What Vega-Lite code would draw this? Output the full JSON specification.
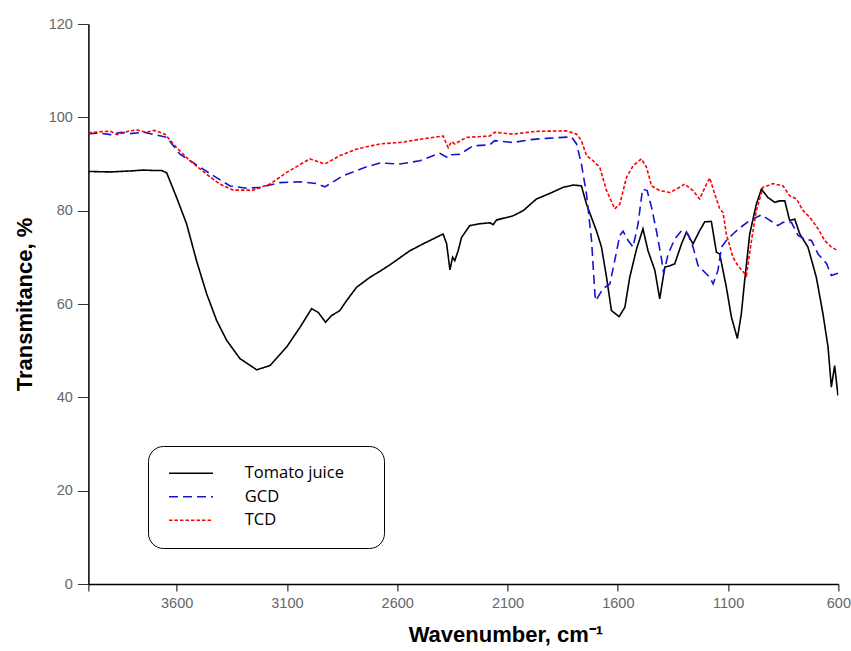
{
  "$schema": "https://vega.github.io/schema/vega-lite/v6.json",
  "width": 750,
  "height": 560,
  "autosize": "none",
  "padding": {"left": 88.4, "top": 24, "right": 12.6, "bottom": 67},
  "background": "white",
  "config": {"view": {"stroke": null}},
  "datasets": {
    "spectra": [
      {"series":"Tomato juice","wavenumber":4000,"transmittance":88.4},
      {"series":"Tomato juice","wavenumber":3900,"transmittance":88.3},
      {"series":"Tomato juice","wavenumber":3812,"transmittance":88.5},
      {"series":"Tomato juice","wavenumber":3750,"transmittance":88.7},
      {"series":"Tomato juice","wavenumber":3700,"transmittance":88.6},
      {"series":"Tomato juice","wavenumber":3667,"transmittance":88.6},
      {"series":"Tomato juice","wavenumber":3645,"transmittance":88.1},
      {"series":"Tomato juice","wavenumber":3600,"transmittance":82.8},
      {"series":"Tomato juice","wavenumber":3555,"transmittance":77.2},
      {"series":"Tomato juice","wavenumber":3510,"transmittance":69.3},
      {"series":"Tomato juice","wavenumber":3464,"transmittance":62.2},
      {"series":"Tomato juice","wavenumber":3419,"transmittance":56.5},
      {"series":"Tomato juice","wavenumber":3373,"transmittance":52.2},
      {"series":"Tomato juice","wavenumber":3313,"transmittance":48.3},
      {"series":"Tomato juice","wavenumber":3237,"transmittance":45.9},
      {"series":"Tomato juice","wavenumber":3177,"transmittance":46.8},
      {"series":"Tomato juice","wavenumber":3101,"transmittance":50.8},
      {"series":"Tomato juice","wavenumber":3041,"transmittance":55.0},
      {"series":"Tomato juice","wavenumber":2988,"transmittance":59.0},
      {"series":"Tomato juice","wavenumber":2958,"transmittance":58.2},
      {"series":"Tomato juice","wavenumber":2925,"transmittance":56.1},
      {"series":"Tomato juice","wavenumber":2898,"transmittance":57.5},
      {"series":"Tomato juice","wavenumber":2860,"transmittance":58.6},
      {"series":"Tomato juice","wavenumber":2830,"transmittance":60.7},
      {"series":"Tomato juice","wavenumber":2784,"transmittance":63.6},
      {"series":"Tomato juice","wavenumber":2724,"transmittance":65.7},
      {"series":"Tomato juice","wavenumber":2679,"transmittance":67.0},
      {"series":"Tomato juice","wavenumber":2633,"transmittance":68.4},
      {"series":"Tomato juice","wavenumber":2543,"transmittance":71.4},
      {"series":"Tomato juice","wavenumber":2482,"transmittance":72.9},
      {"series":"Tomato juice","wavenumber":2392,"transmittance":75.0},
      {"series":"Tomato juice","wavenumber":2376,"transmittance":72.9},
      {"series":"Tomato juice","wavenumber":2361,"transmittance":67.3},
      {"series":"Tomato juice","wavenumber":2349,"transmittance":70.0},
      {"series":"Tomato juice","wavenumber":2339,"transmittance":69.3},
      {"series":"Tomato juice","wavenumber":2324,"transmittance":71.4},
      {"series":"Tomato juice","wavenumber":2308,"transmittance":74.3},
      {"series":"Tomato juice","wavenumber":2271,"transmittance":76.8},
      {"series":"Tomato juice","wavenumber":2226,"transmittance":77.2},
      {"series":"Tomato juice","wavenumber":2180,"transmittance":77.4},
      {"series":"Tomato juice","wavenumber":2165,"transmittance":77.0},
      {"series":"Tomato juice","wavenumber":2150,"transmittance":78.0},
      {"series":"Tomato juice","wavenumber":2075,"transmittance":78.9},
      {"series":"Tomato juice","wavenumber":2029,"transmittance":80.0},
      {"series":"Tomato juice","wavenumber":1969,"transmittance":82.5},
      {"series":"Tomato juice","wavenumber":1908,"transmittance":83.7},
      {"series":"Tomato juice","wavenumber":1848,"transmittance":85.0},
      {"series":"Tomato juice","wavenumber":1800,"transmittance":85.5},
      {"series":"Tomato juice","wavenumber":1765,"transmittance":85.3},
      {"series":"Tomato juice","wavenumber":1742,"transmittance":81.4},
      {"series":"Tomato juice","wavenumber":1697,"transmittance":75.7},
      {"series":"Tomato juice","wavenumber":1674,"transmittance":72.2},
      {"series":"Tomato juice","wavenumber":1651,"transmittance":65.7},
      {"series":"Tomato juice","wavenumber":1629,"transmittance":58.6},
      {"series":"Tomato juice","wavenumber":1594,"transmittance":57.3},
      {"series":"Tomato juice","wavenumber":1568,"transmittance":59.3},
      {"series":"Tomato juice","wavenumber":1546,"transmittance":65.7},
      {"series":"Tomato juice","wavenumber":1515,"transmittance":71.8},
      {"series":"Tomato juice","wavenumber":1486,"transmittance":76.1},
      {"series":"Tomato juice","wavenumber":1463,"transmittance":71.4},
      {"series":"Tomato juice","wavenumber":1432,"transmittance":67.2},
      {"series":"Tomato juice","wavenumber":1410,"transmittance":61.1},
      {"series":"Tomato juice","wavenumber":1387,"transmittance":67.9},
      {"series":"Tomato juice","wavenumber":1364,"transmittance":68.2},
      {"series":"Tomato juice","wavenumber":1342,"transmittance":68.6},
      {"series":"Tomato juice","wavenumber":1311,"transmittance":72.9},
      {"series":"Tomato juice","wavenumber":1289,"transmittance":75.4},
      {"series":"Tomato juice","wavenumber":1259,"transmittance":72.9},
      {"series":"Tomato juice","wavenumber":1229,"transmittance":75.7},
      {"series":"Tomato juice","wavenumber":1206,"transmittance":77.6},
      {"series":"Tomato juice","wavenumber":1176,"transmittance":77.7},
      {"series":"Tomato juice","wavenumber":1153,"transmittance":71.1},
      {"series":"Tomato juice","wavenumber":1138,"transmittance":70.7},
      {"series":"Tomato juice","wavenumber":1108,"transmittance":63.6},
      {"series":"Tomato juice","wavenumber":1085,"transmittance":57.2},
      {"series":"Tomato juice","wavenumber":1058,"transmittance":52.6},
      {"series":"Tomato juice","wavenumber":1040,"transmittance":57.9},
      {"series":"Tomato juice","wavenumber":1025,"transmittance":65.0},
      {"series":"Tomato juice","wavenumber":1002,"transmittance":75.0},
      {"series":"Tomato juice","wavenumber":972,"transmittance":81.4},
      {"series":"Tomato juice","wavenumber":949,"transmittance":84.6},
      {"series":"Tomato juice","wavenumber":919,"transmittance":82.8},
      {"series":"Tomato juice","wavenumber":889,"transmittance":81.8},
      {"series":"Tomato juice","wavenumber":866,"transmittance":82.1},
      {"series":"Tomato juice","wavenumber":843,"transmittance":82.1},
      {"series":"Tomato juice","wavenumber":821,"transmittance":77.9},
      {"series":"Tomato juice","wavenumber":798,"transmittance":78.2},
      {"series":"Tomato juice","wavenumber":775,"transmittance":75.0},
      {"series":"Tomato juice","wavenumber":738,"transmittance":72.2},
      {"series":"Tomato juice","wavenumber":700,"transmittance":65.7},
      {"series":"Tomato juice","wavenumber":670,"transmittance":57.9},
      {"series":"Tomato juice","wavenumber":647,"transmittance":50.8},
      {"series":"Tomato juice","wavenumber":632,"transmittance":42.2},
      {"series":"Tomato juice","wavenumber":617,"transmittance":46.8},
      {"series":"Tomato juice","wavenumber":602,"transmittance":40.4},

      {"series":"GCD","wavenumber":4000,"transmittance":96.5},
      {"series":"GCD","wavenumber":3950,"transmittance":96.6},
      {"series":"GCD","wavenumber":3900,"transmittance":96.3},
      {"series":"GCD","wavenumber":3850,"transmittance":96.8},
      {"series":"GCD","wavenumber":3812,"transmittance":96.5},
      {"series":"GCD","wavenumber":3750,"transmittance":96.8},
      {"series":"GCD","wavenumber":3700,"transmittance":96.3},
      {"series":"GCD","wavenumber":3645,"transmittance":95.7},
      {"series":"GCD","wavenumber":3585,"transmittance":92.1},
      {"series":"GCD","wavenumber":3525,"transmittance":90.3},
      {"series":"GCD","wavenumber":3434,"transmittance":87.5},
      {"series":"GCD","wavenumber":3358,"transmittance":85.3},
      {"series":"GCD","wavenumber":3283,"transmittance":84.8},
      {"series":"GCD","wavenumber":3222,"transmittance":85.0},
      {"series":"GCD","wavenumber":3132,"transmittance":86.0},
      {"series":"GCD","wavenumber":3041,"transmittance":86.2},
      {"series":"GCD","wavenumber":2966,"transmittance":85.8},
      {"series":"GCD","wavenumber":2928,"transmittance":85.1},
      {"series":"GCD","wavenumber":2845,"transmittance":87.5},
      {"series":"GCD","wavenumber":2739,"transmittance":89.4},
      {"series":"GCD","wavenumber":2679,"transmittance":90.2},
      {"series":"GCD","wavenumber":2588,"transmittance":90.0},
      {"series":"GCD","wavenumber":2497,"transmittance":90.7},
      {"series":"GCD","wavenumber":2407,"transmittance":92.3},
      {"series":"GCD","wavenumber":2369,"transmittance":91.3},
      {"series":"GCD","wavenumber":2354,"transmittance":92.0},
      {"series":"GCD","wavenumber":2316,"transmittance":92.1},
      {"series":"GCD","wavenumber":2256,"transmittance":93.9},
      {"series":"GCD","wavenumber":2180,"transmittance":94.1},
      {"series":"GCD","wavenumber":2158,"transmittance":95.0},
      {"series":"GCD","wavenumber":2075,"transmittance":94.6},
      {"series":"GCD","wavenumber":1999,"transmittance":95.2},
      {"series":"GCD","wavenumber":1923,"transmittance":95.5},
      {"series":"GCD","wavenumber":1810,"transmittance":95.8},
      {"series":"GCD","wavenumber":1787,"transmittance":94.3},
      {"series":"GCD","wavenumber":1765,"transmittance":90.0},
      {"series":"GCD","wavenumber":1742,"transmittance":83.6},
      {"series":"GCD","wavenumber":1719,"transmittance":73.6},
      {"series":"GCD","wavenumber":1704,"transmittance":62.2},
      {"series":"GCD","wavenumber":1700,"transmittance":60.7},
      {"series":"GCD","wavenumber":1667,"transmittance":63.3},
      {"series":"GCD","wavenumber":1636,"transmittance":64.3},
      {"series":"GCD","wavenumber":1614,"transmittance":69.3},
      {"series":"GCD","wavenumber":1591,"transmittance":74.7},
      {"series":"GCD","wavenumber":1576,"transmittance":75.6},
      {"series":"GCD","wavenumber":1553,"transmittance":73.6},
      {"series":"GCD","wavenumber":1531,"transmittance":72.2},
      {"series":"GCD","wavenumber":1508,"transmittance":77.2},
      {"series":"GCD","wavenumber":1488,"transmittance":84.6},
      {"series":"GCD","wavenumber":1467,"transmittance":84.3},
      {"series":"GCD","wavenumber":1447,"transmittance":80.7},
      {"series":"GCD","wavenumber":1425,"transmittance":75.7},
      {"series":"GCD","wavenumber":1402,"transmittance":69.7},
      {"series":"GCD","wavenumber":1392,"transmittance":66.5},
      {"series":"GCD","wavenumber":1372,"transmittance":70.7},
      {"series":"GCD","wavenumber":1342,"transmittance":73.9},
      {"series":"GCD","wavenumber":1311,"transmittance":75.7},
      {"series":"GCD","wavenumber":1282,"transmittance":75.0},
      {"series":"GCD","wavenumber":1259,"transmittance":72.2},
      {"series":"GCD","wavenumber":1236,"transmittance":68.2},
      {"series":"GCD","wavenumber":1206,"transmittance":66.8},
      {"series":"GCD","wavenumber":1183,"transmittance":65.7},
      {"series":"GCD","wavenumber":1168,"transmittance":64.3},
      {"series":"GCD","wavenumber":1146,"transmittance":67.2},
      {"series":"GCD","wavenumber":1130,"transmittance":72.2},
      {"series":"GCD","wavenumber":1108,"transmittance":73.6},
      {"series":"GCD","wavenumber":1078,"transmittance":75.0},
      {"series":"GCD","wavenumber":1047,"transmittance":76.3},
      {"series":"GCD","wavenumber":1002,"transmittance":77.9},
      {"series":"GCD","wavenumber":949,"transmittance":79.1},
      {"series":"GCD","wavenumber":919,"transmittance":78.2},
      {"series":"GCD","wavenumber":874,"transmittance":76.8},
      {"series":"GCD","wavenumber":851,"transmittance":77.5},
      {"series":"GCD","wavenumber":813,"transmittance":77.5},
      {"series":"GCD","wavenumber":783,"transmittance":74.7},
      {"series":"GCD","wavenumber":760,"transmittance":74.1},
      {"series":"GCD","wavenumber":722,"transmittance":73.6},
      {"series":"GCD","wavenumber":692,"transmittance":70.7},
      {"series":"GCD","wavenumber":654,"transmittance":68.7},
      {"series":"GCD","wavenumber":632,"transmittance":66.1},
      {"series":"GCD","wavenumber":602,"transmittance":66.6},

      {"series":"TCD","wavenumber":4000,"transmittance":96.7},
      {"series":"TCD","wavenumber":3950,"transmittance":96.9},
      {"series":"TCD","wavenumber":3900,"transmittance":97.0},
      {"series":"TCD","wavenumber":3870,"transmittance":96.3},
      {"series":"TCD","wavenumber":3812,"transmittance":97.1},
      {"series":"TCD","wavenumber":3780,"transmittance":97.3},
      {"series":"TCD","wavenumber":3740,"transmittance":96.8},
      {"series":"TCD","wavenumber":3700,"transmittance":97.2},
      {"series":"TCD","wavenumber":3653,"transmittance":96.4},
      {"series":"TCD","wavenumber":3600,"transmittance":93.5},
      {"series":"TCD","wavenumber":3540,"transmittance":90.7},
      {"series":"TCD","wavenumber":3464,"transmittance":87.8},
      {"series":"TCD","wavenumber":3404,"transmittance":85.7},
      {"series":"TCD","wavenumber":3343,"transmittance":84.4},
      {"series":"TCD","wavenumber":3253,"transmittance":84.4},
      {"series":"TCD","wavenumber":3177,"transmittance":85.7},
      {"series":"TCD","wavenumber":3101,"transmittance":88.2},
      {"series":"TCD","wavenumber":2996,"transmittance":91.1},
      {"series":"TCD","wavenumber":2928,"transmittance":90.0},
      {"series":"TCD","wavenumber":2860,"transmittance":91.8},
      {"series":"TCD","wavenumber":2784,"transmittance":93.2},
      {"series":"TCD","wavenumber":2679,"transmittance":94.3},
      {"series":"TCD","wavenumber":2588,"transmittance":94.6},
      {"series":"TCD","wavenumber":2497,"transmittance":95.3},
      {"series":"TCD","wavenumber":2392,"transmittance":96.0},
      {"series":"TCD","wavenumber":2369,"transmittance":93.5},
      {"series":"TCD","wavenumber":2354,"transmittance":94.8},
      {"series":"TCD","wavenumber":2339,"transmittance":94.3},
      {"series":"TCD","wavenumber":2286,"transmittance":95.7},
      {"series":"TCD","wavenumber":2180,"transmittance":96.0},
      {"series":"TCD","wavenumber":2158,"transmittance":96.8},
      {"series":"TCD","wavenumber":2075,"transmittance":96.4},
      {"series":"TCD","wavenumber":1969,"transmittance":97.0},
      {"series":"TCD","wavenumber":1833,"transmittance":97.1},
      {"series":"TCD","wavenumber":1787,"transmittance":96.4},
      {"series":"TCD","wavenumber":1765,"transmittance":95.0},
      {"series":"TCD","wavenumber":1742,"transmittance":91.8},
      {"series":"TCD","wavenumber":1712,"transmittance":90.7},
      {"series":"TCD","wavenumber":1682,"transmittance":89.3},
      {"series":"TCD","wavenumber":1651,"transmittance":84.3},
      {"series":"TCD","wavenumber":1614,"transmittance":80.4},
      {"series":"TCD","wavenumber":1591,"transmittance":81.4},
      {"series":"TCD","wavenumber":1561,"transmittance":87.1},
      {"series":"TCD","wavenumber":1531,"transmittance":89.6},
      {"series":"TCD","wavenumber":1493,"transmittance":91.1},
      {"series":"TCD","wavenumber":1470,"transmittance":89.3},
      {"series":"TCD","wavenumber":1447,"transmittance":85.3},
      {"series":"TCD","wavenumber":1410,"transmittance":84.3},
      {"series":"TCD","wavenumber":1364,"transmittance":83.9},
      {"series":"TCD","wavenumber":1334,"transmittance":84.6},
      {"series":"TCD","wavenumber":1297,"transmittance":85.7},
      {"series":"TCD","wavenumber":1259,"transmittance":84.3},
      {"series":"TCD","wavenumber":1229,"transmittance":82.5},
      {"series":"TCD","wavenumber":1198,"transmittance":85.7},
      {"series":"TCD","wavenumber":1183,"transmittance":87.0},
      {"series":"TCD","wavenumber":1161,"transmittance":83.6},
      {"series":"TCD","wavenumber":1138,"transmittance":80.4},
      {"series":"TCD","wavenumber":1123,"transmittance":79.6},
      {"series":"TCD","wavenumber":1108,"transmittance":75.0},
      {"series":"TCD","wavenumber":1078,"transmittance":70.0},
      {"series":"TCD","wavenumber":1055,"transmittance":68.2},
      {"series":"TCD","wavenumber":1017,"transmittance":66.1},
      {"series":"TCD","wavenumber":994,"transmittance":73.6},
      {"series":"TCD","wavenumber":972,"transmittance":80.0},
      {"series":"TCD","wavenumber":942,"transmittance":85.0},
      {"series":"TCD","wavenumber":896,"transmittance":85.8},
      {"series":"TCD","wavenumber":851,"transmittance":85.3},
      {"series":"TCD","wavenumber":821,"transmittance":83.2},
      {"series":"TCD","wavenumber":790,"transmittance":82.5},
      {"series":"TCD","wavenumber":760,"transmittance":80.0},
      {"series":"TCD","wavenumber":730,"transmittance":78.6},
      {"series":"TCD","wavenumber":692,"transmittance":76.1},
      {"series":"TCD","wavenumber":662,"transmittance":73.6},
      {"series":"TCD","wavenumber":632,"transmittance":72.2},
      {"series":"TCD","wavenumber":602,"transmittance":71.4}
    ]
  },
  "data": {"name": "spectra"},
  "mark": {"type": "line", "strokeWidth": 1.6, "clip": true},
  "encoding": {
    "x": {
      "field": "wavenumber",
      "type": "quantitative",
      "scale": {"domain": [600, 4000], "reverse": true, "nice": false, "zero": false},
      "axis": {
        "title": "Wavenumber, cm⁻¹",
        "values": [4000, 3600, 3100, 2600, 2100, 1600, 1100, 600],
        "labelExpr": "datum.value == 4000 ? '' : format(datum.value, 'd')",
        "grid": false,
        "domainColor": "black",
        "domainWidth": 1.5,
        "tickColor": "black",
        "tickWidth": 1,
        "tickSize": 7,
        "labelPadding": 5,
        "labelFont": "Liberation Sans",
        "labelFontSize": 14.5,
        "labelColor": "#666666",
        "labelFlush": false,
        "titleFont": "Liberation Sans",
        "titleFontSize": 22,
        "titleFontWeight": "bold",
        "titleColor": "black",
        "titlePadding": 15,
        "titleX": 417
      }
    },
    "y": {
      "field": "transmittance",
      "type": "quantitative",
      "scale": {"domain": [0, 120], "nice": false, "zero": true},
      "axis": {
        "title": "Transmitance, %",
        "values": [0, 20, 40, 60, 80, 100, 120],
        "grid": false,
        "domainColor": "black",
        "domainWidth": 1.5,
        "tickColor": "#333333",
        "tickWidth": 1,
        "tickSize": 11,
        "labelPadding": 5,
        "labelFont": "Liberation Sans",
        "labelFontSize": 14.5,
        "labelColor": "#666666",
        "labelFlush": false,
        "titleFont": "Liberation Sans",
        "titleFontSize": 22,
        "titleFontWeight": "bold",
        "titleColor": "black",
        "titlePadding": 12
      }
    },
    "color": {
      "field": "series",
      "type": "nominal",
      "scale": {"domain": ["Tomato juice", "GCD", "TCD"], "range": ["#000000", "#1414d2", "#ff0000"]},
      "legend": {
        "title": null,
        "orient": "none",
        "legendX": 59.6,
        "legendY": 422,
        "symbolType": "M-4,0H4",
        "symbolSize": 121,
        "symbolStrokeWidth": 1.5,
        "symbolFillColor": "transparent",
        "symbolOffset": 15.75,
        "labelOffset": 45.5,
        "rowPadding": 6.5,
        "padding": 19,
        "fillColor": "white",
        "strokeColor": "black",
        "cornerRadius": 15,
        "labelFont": "Open Sans",
        "labelFontSize": 16.5,
        "labelColor": "black",
        "labelExpr": "datum.label == 'Tomato juice' ? datum.label + '\u00a0\u00a0⠀' : datum.label"
      }
    },
    "strokeDash": {
      "field": "series",
      "type": "nominal",
      "scale": {"domain": ["Tomato juice", "GCD", "TCD"], "range": [[1, 0], [9, 5], [3.5, 2]]},
      "legend": {
        "title": null,
        "orient": "none",
        "legendX": 59.6,
        "legendY": 422,
        "symbolType": "M-4,0H4",
        "symbolSize": 121,
        "symbolStrokeWidth": 1.5,
        "symbolFillColor": "transparent",
        "symbolOffset": 15.75,
        "labelOffset": 45.5,
        "rowPadding": 6.5,
        "padding": 19,
        "fillColor": "white",
        "strokeColor": "black",
        "cornerRadius": 15,
        "labelFont": "Open Sans",
        "labelFontSize": 16.5,
        "labelColor": "black",
        "labelExpr": "datum.label == 'Tomato juice' ? datum.label + '\u00a0\u00a0⠀' : datum.label"
      }
    }
  }
}
